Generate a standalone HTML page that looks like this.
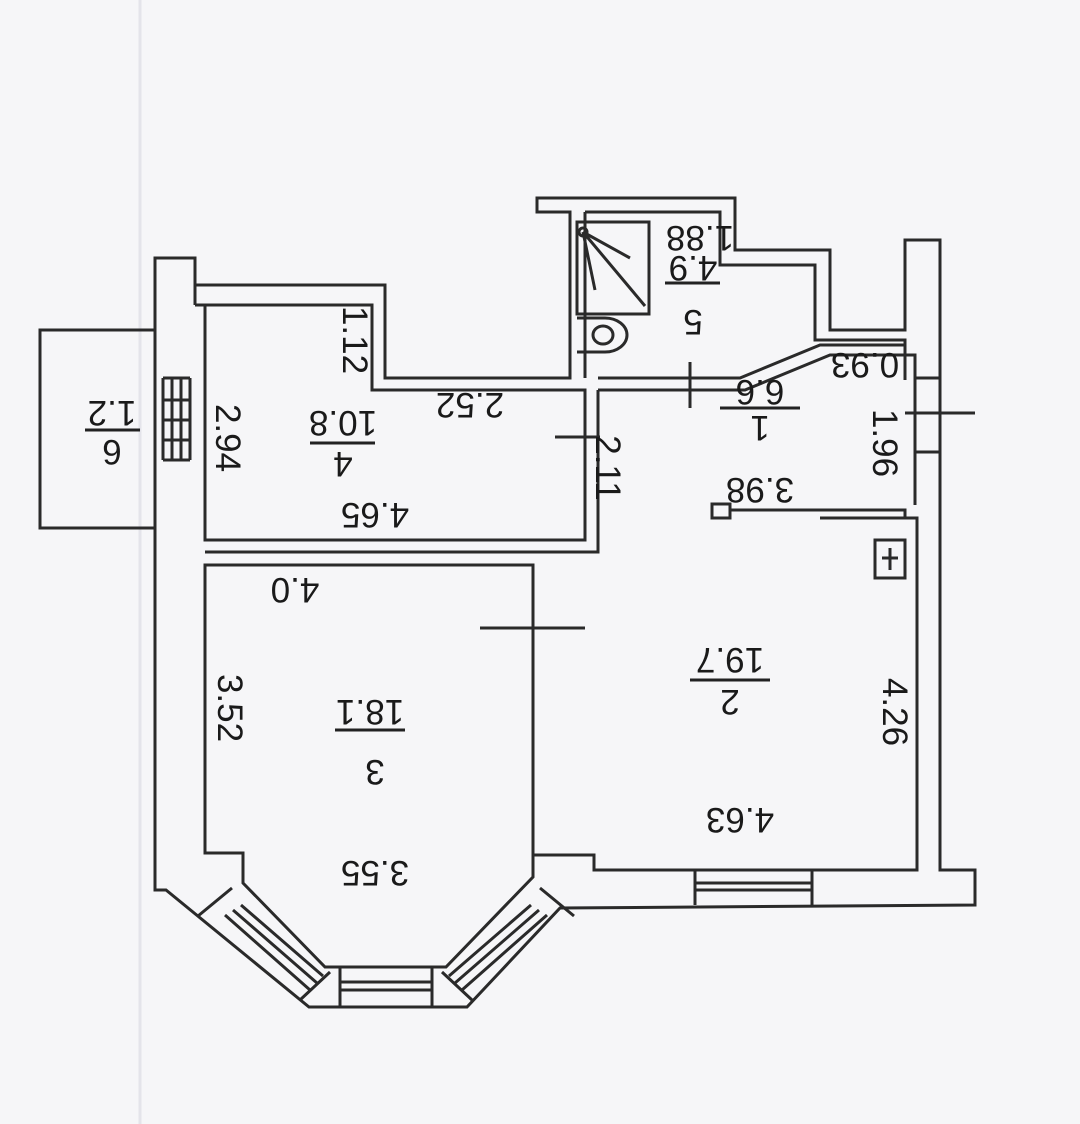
<!DOCTYPE html>
<html><head><meta charset="utf-8"><style>
html,body{margin:0;padding:0;background:#f6f6f8;}
svg{display:block}
text{font-family:"Liberation Sans",sans-serif;fill:#1a1a1a;font-size:35px}
</style></head><body>
<svg width="1080" height="1124" viewBox="0 0 1080 1124" xmlns="http://www.w3.org/2000/svg">
<rect width="1080" height="1124" fill="#f6f6f8"/>
<line x1="140" y1="0" x2="140" y2="1124" stroke="#e4e4ea" stroke-width="3"/>
<g fill="none" stroke="#2a2a2a" stroke-width="3" stroke-linejoin="miter">
<path d="M155,258 L195,258 L195,285 L385,285 L385,378 L570,378 L570,212 L537,212 L537,198 L735,198 L735,250 L830,250 L830,330 L905,330 L905,240 L940,240 L940,870 L975,870 L975,905 L560,908 L467,1007 L309,1007 L166,890 L155,890 Z"/>
<rect x="40" y="330" width="115" height="198"/>
<path d="M205,305 L372,305 L372,390 L585,390 L585,540 L205,540 Z"/>
<path d="M195,285 L195,305 M195,305 L205,305"/>
<path d="M585,212 L720,212 L720,265 L815,265 L815,340 L905,340 L905,380"/>
<path d="M585,212 L585,378"/>
<path d="M598,378 L740,378 L820,345 L905,345"/>
<path d="M598,390 L745,390 L830,355 L915,355 L915,505"/>
<path d="M205,552 L598,552 L598,390"/>
<path d="M205,565 L533,565 L533,877 L446,967 L325,967 L243,883 L243,853 L205,853 Z"/>
<path d="M533,855 L594,855 L594,870 L917,870 L917,518 L820,518"/>
<path d="M915,378 L940,378 M915,452 L940,452"/>
<path d="M730,510 L905,510 L905,518"/>
<rect x="712" y="504" width="18" height="14"/>
<rect x="875" y="540" width="30" height="38"/>
<path d="M882,558 L898,558 M890,548 L890,570"/>
<path d="M480,628 L585,628"/>
<path d="M690,362 L690,408"/>
<path d="M555,437 L600,437"/>
<path d="M905,413 L975,413"/>
<rect x="577" y="222" width="72" height="92"/>
<path d="M583,232 L645,306 M583,232 L595,290 M583,232 L630,258"/>
<circle cx="583" cy="232" r="4"/>
<path d="M577,318 L605,318 A22,17 0 0 1 605,352 L577,352"/>
<ellipse cx="603" cy="335" rx="10" ry="9"/>
<path d="M163,378 L190,378 M163,460 L190,460 M163,378 L163,460 M172,378 L172,460 M181,378 L181,460 M190,378 L190,460 M163,400 L190,400 M163,420 L190,420 M163,440 L190,440"/>
<path d="M695,870 L695,905 M812,870 L812,905 M695,883 L812,883 M695,890 L812,890"/>
<path d="M340,967 L340,1007 M432,967 L432,1007 M340,982 L432,982 M340,990 L432,990"/>
<!-- left bay window -->
<path d="M198,916 L232,888 M300,1000 L330,972 M225,915 L310,990 M233,910 L317,983 M241,905 L323,976"/>
<!-- right bay window -->
<path d="M574,916 L540,888 M472,1000 L442,972 M547,915 L462,990 M539,910 L455,983 M531,905 L449,976"/>
</g>
<line x1="720" y1="408" x2="800" y2="408" stroke="#222" stroke-width="3"/>
<line x1="310" y1="443" x2="375" y2="443" stroke="#222" stroke-width="3"/>
<line x1="335" y1="730" x2="405" y2="730" stroke="#222" stroke-width="3"/>
<line x1="690" y1="680" x2="770" y2="680" stroke="#222" stroke-width="3"/>
<line x1="665" y1="283" x2="720" y2="283" stroke="#222" stroke-width="3"/>
<g text-anchor="middle">
<text transform="translate(700,238) rotate(180)" dy="12">1.88</text>
<text transform="translate(693,268) rotate(180)" dy="12">4.9</text>
<text transform="translate(693,322) rotate(180)" dy="12">5</text>
<text transform="translate(865,365) rotate(180)" dy="12">0.93</text>
<text transform="translate(885,443) rotate(90)" dy="12">1.96</text>
<text transform="translate(760,392) rotate(180)" dy="12">6.6</text>
<text transform="translate(760,428) rotate(180)" dy="12">1</text>
<text transform="translate(760,490) rotate(180)" dy="12">3.98</text>
<text transform="translate(470,405) rotate(180)" dy="12">2.52</text>
<text transform="translate(608,468) rotate(90)" dy="12">2.11</text>
<text transform="translate(228,438) rotate(90)" dy="12">2.94</text>
<text transform="translate(355,340) rotate(90)" dy="12">1.12</text>
<text transform="translate(343,423) rotate(180)" dy="12">10.8</text>
<text transform="translate(343,464) rotate(180)" dy="12">4</text>
<text transform="translate(375,515) rotate(180)" dy="12">4.65</text>
<text transform="translate(295,590) rotate(180)" dy="12">4.0</text>
<text transform="translate(230,708) rotate(90)" dy="12">3.52</text>
<text transform="translate(370,712) rotate(180)" dy="12">18.1</text>
<text transform="translate(375,772) rotate(180)" dy="12">3</text>
<text transform="translate(375,873) rotate(180)" dy="12">3.55</text>
<text transform="translate(730,660) rotate(180)" dy="12">19.7</text>
<text transform="translate(730,702) rotate(180)" dy="12">2</text>
<text transform="translate(740,820) rotate(180)" dy="12">4.63</text>
<text transform="translate(895,712) rotate(90)" dy="12">4.26</text>
<text transform="translate(112,413) rotate(180)" dy="12">1.2</text>
<text transform="translate(112,452) rotate(180)" dy="12">6</text>
</g>
<line x1="85" y1="430" x2="140" y2="430" stroke="#222" stroke-width="3"/>
</svg>
</body></html>
